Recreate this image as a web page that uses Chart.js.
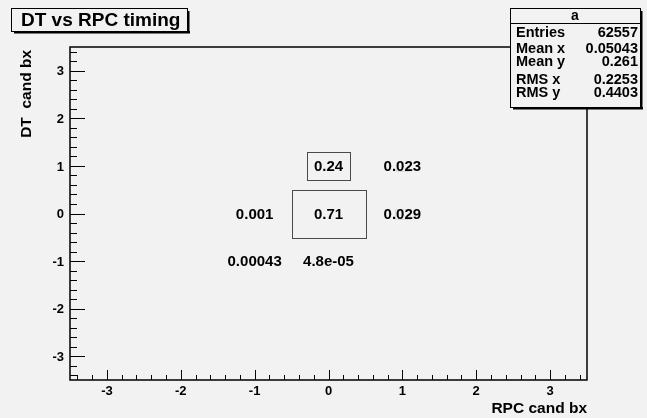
<!DOCTYPE html>
<html>
<head>
<meta charset="utf-8">
<script src="https://cdn.jsdelivr.net/npm/chart.js@4/dist/chart.umd.min.js"></script>
<style>
html,body{margin:0;padding:0;background:#f2f2f2;}
#wrap{width:647px;height:418px;position:relative;}
</style>
</head>
<body>
<div id="wrap"><canvas id="c" width="647" height="418"></canvas></div>
<script>
// ---- data ----
const titleText = "DT vs RPC timing";
const xTitle = "RPC cand bx";
const yTitle = "DT  cand bx";
const binX = [-1, -1, 0, 0, 0, 1, 1];
const binY = [0, -1, -1, 1, 0, 1, 0];
const binValues = [0.001, 0.00043, 4.8e-05, 0.24, 0.71, 0.023, 0.029];
const binLabels = ["0.001", "0.00043", "4.8e-05", "0.24", "0.71", "0.023", "0.029"];
const xTickValues = [-3, -2, -1, 0, 1, 2, 3];
const yTickValues = [-3, -2, -1, 0, 1, 2, 3];
const statsName = "a";
const statsLabels = ["Entries", "Mean x", "Mean y", "RMS x", "RMS y"];
const statsValues = ["62557", "0.05043", "0.261", "0.2253", "0.4403"];

const FONT = '"Liberation Sans", Arial, Helvetica, sans-serif';
const BG = '#f2f2f2';

const points = binX.map((x, i) => ({x: x, y: binY[i]}));

function boxWithShadow(ctx, x0, y0, x1, y1) {
  ctx.fillStyle = BG;
  ctx.fillRect(x0, y0, x1 - x0, y1 - y0);
  ctx.strokeStyle = '#000';
  ctx.lineWidth = 1;
  ctx.strokeRect(x0 + 0.5, y0 + 0.5, x1 - x0, y1 - y0);
  ctx.fillStyle = '#000';
  ctx.fillRect(x1, y0 + 3, 2.5, y1 - y0 - 1);
  ctx.fillRect(x0 + 3, y1, x1 - x0, 2.5);
}

const rootPlugin = {
  id: 'rootStyle',
  beforeDraw(chart) {
    const ctx = chart.ctx;
    ctx.save();
    ctx.fillStyle = BG;
    ctx.fillRect(0, 0, chart.width, chart.height);
    ctx.restore();
  },
  afterDatasetsDraw(chart) {
    const ctx = chart.ctx;
    const xs = chart.scales.x, ys = chart.scales.y;
    const a = chart.chartArea;
    const meta = chart.getDatasetMeta(0);
    const vmax = Math.max(...binValues);
    const binW = xs.getPixelForValue(0.5) - xs.getPixelForValue(-0.5);
    const binH = ys.getPixelForValue(-0.5) - ys.getPixelForValue(0.5);
    ctx.save();
    // boxes
    meta.data.forEach((el, i) => {
      const f = Math.sqrt(binValues[i] / vmax);
      const w = binW * f, h = binH * f;
      if (w < 1) return;
      ctx.strokeStyle = w < 20 ? '#dcdcdc' : '#4a4a4a';
      ctx.lineWidth = 1;
      ctx.strokeRect(Math.round(el.x - w / 2) + 0.5, Math.round(el.y - h / 2) + 0.5, Math.round(w), Math.round(h));
    });
    // texts
    ctx.fillStyle = '#000';
    ctx.font = 'bold 15px ' + FONT;
    ctx.textAlign = 'center';
    ctx.textBaseline = 'middle';
    meta.data.forEach((el, i) => {
      ctx.fillText(binLabels[i], el.x, el.y + 1);
    });
    // frame
    ctx.strokeStyle = '#000';
    ctx.lineWidth = 1.5;
    ctx.strokeRect(a.left, a.top, a.right - a.left, a.bottom - a.top);
    // x ticks
    ctx.lineWidth = 1;
    ctx.strokeStyle = '#000';
    for (let k = -17; k <= 17; k++) {
      const v = k / 5;
      const px = Math.round(xs.getPixelForValue(v)) + 0.5;
      const major = (k % 5 === 0);
      ctx.beginPath();
      ctx.moveTo(px, a.bottom);
      ctx.lineTo(px, a.bottom - (major ? 10 : 5));
      ctx.stroke();
    }
    for (let k = -17; k <= 17; k++) {
      const v = k / 5;
      const py = Math.round(ys.getPixelForValue(v)) + 0.5;
      const major = (k % 5 === 0);
      ctx.beginPath();
      ctx.moveTo(a.left, py);
      ctx.lineTo(a.left + (major ? 15 : 7), py);
      ctx.stroke();
    }
    // tick labels
    ctx.font = 'bold 13px ' + FONT;
    ctx.textAlign = 'center';
    ctx.textBaseline = 'middle';
    xTickValues.forEach(v => {
      ctx.fillText(String(v), xs.getPixelForValue(v), a.bottom + 11);
    });
    ctx.textAlign = 'right';
    yTickValues.forEach(v => {
      ctx.fillText(String(v), a.left - 6, ys.getPixelForValue(v) + 1);
    });
    // axis titles
    ctx.font = 'bold 15.5px ' + FONT;
    ctx.textAlign = 'right';
    ctx.fillText(xTitle, a.right, a.bottom + 29);
    ctx.save();
    ctx.translate(27, a.top + 3);
    ctx.rotate(-Math.PI / 2);
    ctx.textAlign = 'right';
    ctx.textBaseline = 'middle';
    ctx.fillText(yTitle, 0, 0);
    ctx.restore();
    // title box
    boxWithShadow(ctx, 11, 8, 187, 31);
    ctx.fillStyle = '#000';
    ctx.font = 'bold 19px ' + FONT;
    ctx.textAlign = 'left';
    ctx.textBaseline = 'middle';
    ctx.fillText(titleText, 21, 20.5);
    // stats box
    const sx0 = 510, sx1 = 640, sy0 = 8, sy1 = 107;
    boxWithShadow(ctx, sx0, sy0, sx1, sy1);
    ctx.strokeStyle = '#000';
    ctx.lineWidth = 1;
    ctx.beginPath();
    ctx.moveTo(sx0, 23.5);
    ctx.lineTo(sx1, 23.5);
    ctx.stroke();
    ctx.fillStyle = '#000';
    ctx.font = 'bold 14px ' + FONT;
    ctx.textAlign = 'center';
    ctx.fillText(statsName, (sx0 + sx1) / 2, 16);
    const rows = [32.5, 48.5, 62, 80, 93];
    ctx.font = 'bold 14.5px ' + FONT;
    statsLabels.forEach((l, i) => {
      ctx.textAlign = 'left';
      ctx.fillText(l, 516, rows[i]);
      ctx.textAlign = 'right';
      ctx.fillText(statsValues[i], 638, rows[i]);
    });
    ctx.restore();
  }
};

new Chart(document.getElementById('c'), {
  type: 'scatter',
  data: {
    datasets: [{
      data: points,
      pointRadius: 0,
      pointHoverRadius: 0,
      showLine: false
    }]
  },
  options: {
    responsive: false,
    animation: false,
    events: [],
    layout: {padding: {left: 70, right: 60, top: 47, bottom: 38}},
    plugins: {legend: {display: false}, tooltip: {enabled: false}, title: {display: false}},
    scales: {
      x: {type: 'linear', min: -3.5, max: 3.5, display: false},
      y: {type: 'linear', min: -3.5, max: 3.5, display: false}
    }
  },
  plugins: [rootPlugin]
});
</script>
</body>
</html>
